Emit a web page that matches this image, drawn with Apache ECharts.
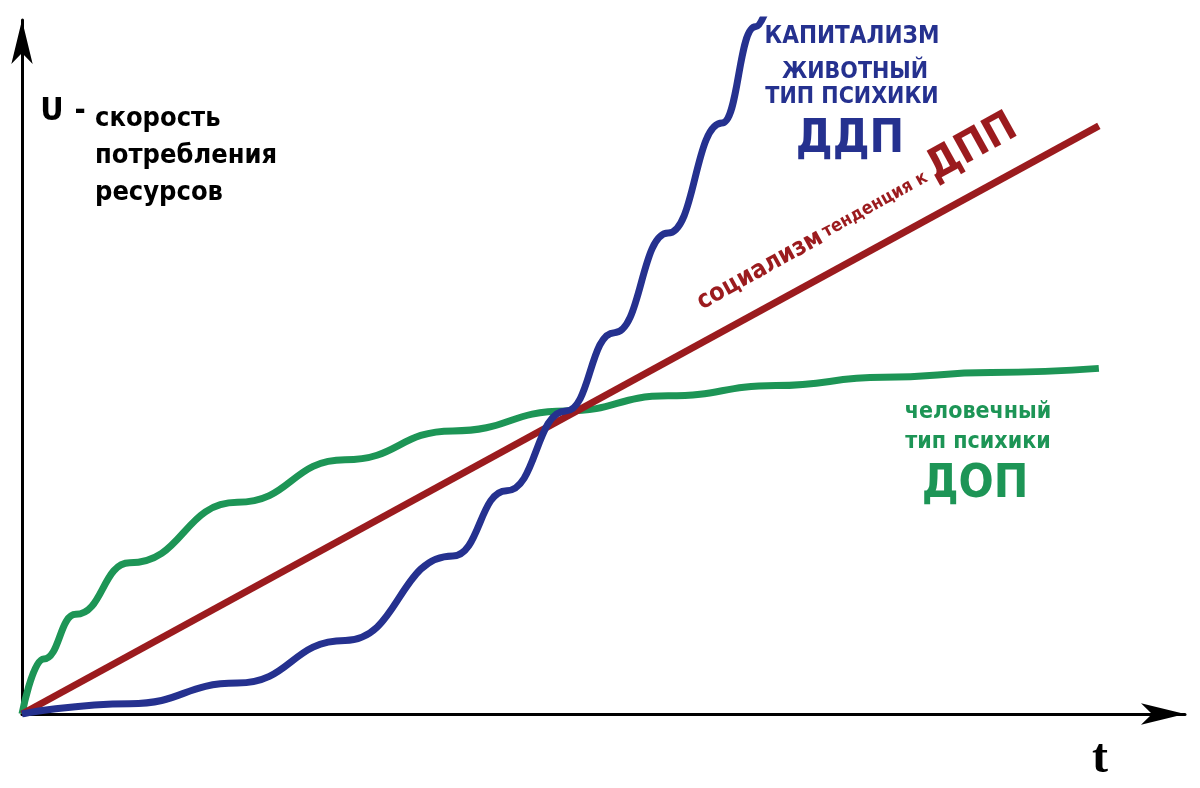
<!DOCTYPE html>
<html><head><meta charset="utf-8">
<script src="https://cdn.jsdelivr.net/npm/echarts@6/dist/echarts.min.js"></script>
<style>html,body{margin:0;background:#fff}#c{width:1200px;height:788px}</style>
</head><body><div id="c"></div>
<script>
// t values and U values for each curve
var redX = [0, 100];
var redY = [0, 85.6];
var greenX = [0, 2, 5, 10, 20, 30, 40, 50.5, 60, 70, 80, 90, 100];
var greenY = [0, 8, 14.5, 22, 30.8, 37, 41.2, 44.1, 46.3, 47.8, 49, 49.7, 50.3];
var blueX = [0, 10, 20, 30, 40, 45, 50.5, 55, 60, 65, 68.1, 70];
var blueY = [0, 1.5, 4.5, 10.7, 23, 32.5, 44.1, 55.5, 70, 86, 100, 108];

function pairs(xs, ys) { return xs.map(function (x, i) { return [x, ys[i]]; }); }

var F = '"Liberation Sans Narrow","DejaVu Sans Condensed",sans-serif';
var BLUE = '#25318f', RED = '#9b1b1e', GREEN = '#1d9556';
function txt(s, x, y, size, color, rot) {
    return { type: 'text', x: x, y: y, rotation: rot || 0,
        style: { text: s, fontFamily: F, fontWeight: 'bold', fontSize: size, fill: color, align: 'center', verticalAlign: 'middle' } };
}
var r = 29 * Math.PI / 180;

var chart = echarts.init(document.getElementById('c'));
chart.setOption({
    animation: false,
    grid: { left: 22, right: 15, top: 20, bottom: 74 },
    xAxis: { type: 'value', min: 0, max: 108, axisLabel: { show: false }, axisTick: { show: false }, splitLine: { show: false },
        axisLine: { lineStyle: { color: '#000', width: 3 }, symbol: ['none', 'arrow'], symbolSize: [16, 44] } },
    yAxis: { type: 'value', min: 0, max: 101, axisLabel: { show: false }, axisTick: { show: false }, splitLine: { show: false },
        axisLine: { lineStyle: { color: '#000', width: 3 }, symbol: ['none', 'arrow'], symbolSize: [16, 44] } },
    series: [
        { type: 'line', data: pairs(greenX, greenY), smooth: 0.5, smoothMonotone: 'x', showSymbol: false, lineStyle: { color: GREEN, width: 7 } },
        { type: 'line', data: pairs(redX, redY), showSymbol: false, lineStyle: { color: RED, width: 7 } },
        { type: 'line', data: pairs(blueX, blueY), smooth: 0.5, smoothMonotone: 'x', showSymbol: false, clip: true, lineStyle: { color: BLUE, width: 7 } }
    ],
    graphic: [
        txt('U', 52, 112, 32, '#000'), txt('-', 80, 112, 30, '#000'),
        { type: 'text', x: 95, y: 100, style: { text: 'скорость\nпотребления\nресурсов', fontFamily: F, fontWeight: 'bold', fontSize: 27, lineHeight: 37, fill: '#000' } },
        txt('КАПИТАЛИЗМ', 852, 37, 24, BLUE), txt('ЖИВОТНЫЙ', 855, 72, 23, BLUE),
        txt('ТИП ПСИХИКИ', 852, 97, 23, BLUE), txt('ДДП', 850, 140, 46, BLUE),
        txt('социализм', 760, 270, 25, RED, r), txt('тенденция к', 875, 205, 18, RED, r),
        txt('ДПП', 972, 148, 42, RED, r),
        txt('человечный', 978, 412, 23, GREEN), txt('тип психики', 978, 442, 23, GREEN),
        txt('ДОП', 975, 485, 46, GREEN),
        { type: 'text', x: 1100, y: 760, style: { text: 't', fontFamily: '"Liberation Serif",serif', fontWeight: 'bold', fontSize: 48, fill: '#000', align: 'center', verticalAlign: 'middle' } }
    ]
});
</script></body></html>
